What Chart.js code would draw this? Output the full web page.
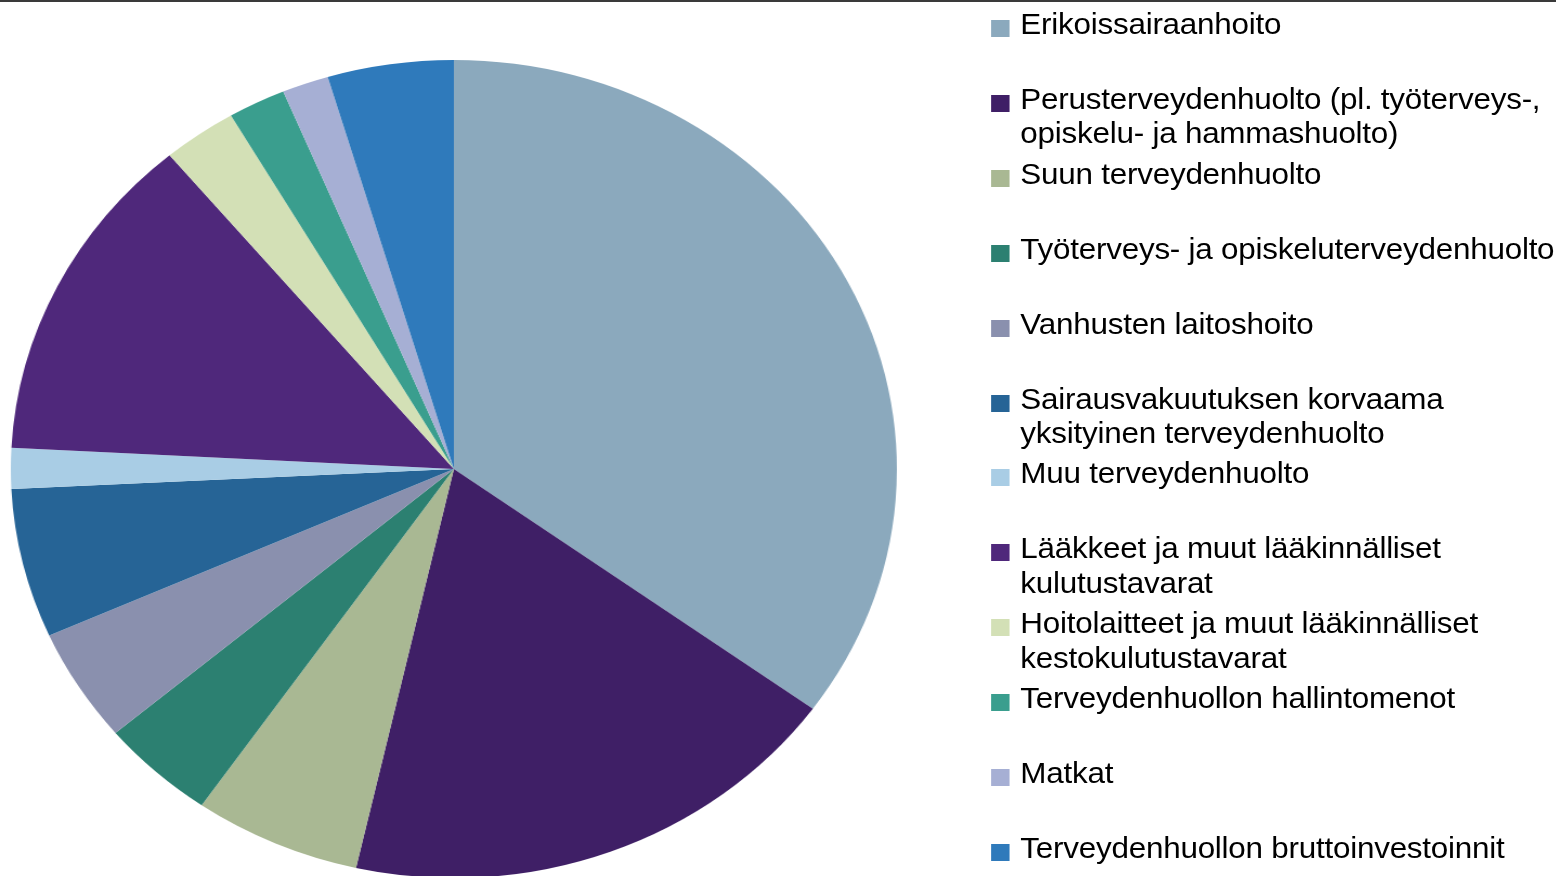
<!DOCTYPE html>
<html lang="fi">
<head>
<meta charset="utf-8">
<title>Terveydenhuollon menot</title>
<script src="https://cdn.jsdelivr.net/npm/chart.js@4/dist/chart.umd.min.js"></script>
<style>
  html, body { margin: 0; padding: 0; background: #fff; overflow: hidden; }
  body { width: 1556px; height: 876px; position: relative; border-top: 2px solid #3a3a3a; box-sizing: border-box; }
  /* the original picture is stretched a bit sideways, so the whole stage is too */
  #stage { position: absolute; left: 0; top: 0; width: 1437px; height: 876px; transform: scaleX(1.0832); transform-origin: 0 0; }
  #pieBox { position: absolute; left: 0; top: 58px; width: 838px; height: 818px; }
  #legend { position: absolute; left: 915px; top: 0; font-family: "Liberation Sans", Arial, sans-serif; font-size: 29px; line-height: 34.5px; letter-spacing: -0.22px; color: #000; }
  .item { position: absolute; left: 0; white-space: nowrap; }
  .box { position: absolute; left: 0; top: 12px; width: 17px; height: 17px; }
  .txt { position: absolute; left: 27px; top: -1px; }
</style>
</head>
<body>
<div id="stage">
  <div id="pieBox"><canvas id="myChart"></canvas></div>
  <div id="legend"></div>
</div>
<script>
// menoerät, rivitettynä kuten alkuperäisessä selitteessä
const labels = [
    ["Erikoissairaanhoito"],
    ["Perusterveydenhuolto (pl. työterveys-,", "opiskelu- ja hammashuolto)"],
    ["Suun terveydenhuolto"],
    ["Työterveys- ja opiskeluterveydenhuolto"],
    ["Vanhusten laitoshoito"],
    ["Sairausvakuutuksen korvaama", "yksityinen terveydenhuolto"],
    ["Muu terveydenhuolto"],
    ["Lääkkeet ja muut lääkinnälliset", "kulutustavarat"],
    ["Hoitolaitteet ja muut lääkinnälliset", "kestokulutustavarat"],
    ["Terveydenhuollon hallintomenot"],
    ["Matkat"],
    ["Terveydenhuollon bruttoinvestoinnit"]
];

// osuudet (%), luettu kuvasta
const shares = [35.0, 18.6, 6.1, 4.2, 4.5, 5.9, 1.6, 13.1, 2.7, 2.1, 1.7, 4.6];

const colors = ["#8ba9bd", "#3f1f66", "#a9b893", "#2c8071", "#8a90ae", "#266496",
                "#a9cde5", "#4f287b", "#d3e0b6", "#3a9e8e", "#a6afd4", "#2f7abb"];

// selite
let legend = document.getElementById("legend");
for (let i = 0; i < labels.length; i++) {
    let item = document.createElement("div");
    item.className = "item";
    item.style.top = (6 + i * 74.9) + "px";

    let box = document.createElement("div");
    box.className = "box";
    box.style.background = colors[i];

    let txt = document.createElement("div");
    txt.className = "txt";
    txt.innerHTML = labels[i].join("<br>");

    item.appendChild(box);
    item.appendChild(txt);
    legend.appendChild(item);
}

// PIE
const ctx = document.getElementById('myChart');

new Chart(ctx, {
    type: 'pie',
    data: {
        labels: labels.map(l => l.join(" ")),
        datasets: [{
            data: shares,
            backgroundColor: colors,
            borderWidth: 0
        }]
    },
    options: {
        responsive: true,
        maintainAspectRatio: false,
        animation: false,
        layout: { padding: 0 },
        plugins: {
            legend: { display: false },
            tooltip: { enabled: false }
        }
    }
});
</script>
</body>
</html>
